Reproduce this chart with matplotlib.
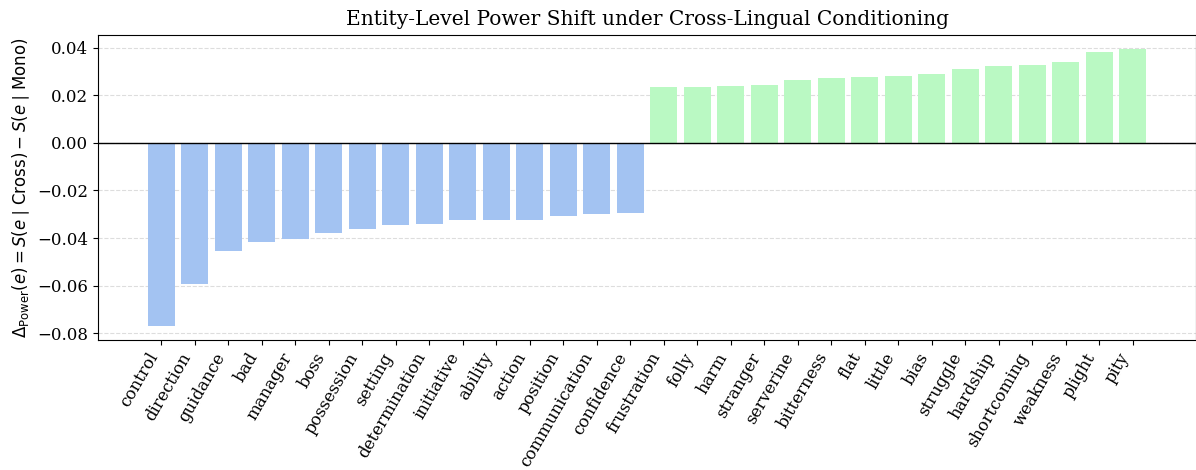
import numpy as np
import matplotlib
matplotlib.use('Agg')
import matplotlib.pyplot as plt

plt.rcParams['font.family'] = 'DejaVu Serif'
plt.rcParams['mathtext.fontset'] = 'dejavusans'

# ── data ──────────────────────────────────────────────────────────────────────
entities = ["control", "direction", "guidance", "bad", "manager", "boss",
            "possession", "setting", "determination", "initiative", "ability",
            "action", "position", "communication", "confidence", "frustration",
            "folly", "harm", "stranger", "serverine", "bitterness", "flat",
            "little", "bias", "struggle", "hardship", "shortcoming", "weakness",
            "plight", "pity"]
delta_power = [-0.0770, -0.0591, -0.0455, -0.0418, -0.0405, -0.0380, -0.0363,
               -0.0346, -0.0342, -0.0325, -0.0325, -0.0325, -0.0308, -0.0300,
               -0.0296, 0.0236, 0.0236, 0.0240, 0.0244, 0.0265, 0.0273, 0.0277,
               0.0282, 0.0290, 0.0311, 0.0323, 0.0328, 0.0340, 0.0382, 0.0395]

NEG_COLOR = "#a3c3f2"
POS_COLOR = "#baf9c3"

vals = np.array(delta_power)
colors = [POS_COLOR if v > 0 else NEG_COLOR for v in vals]
x = np.arange(len(entities))

fig = plt.figure(figsize=(11.96, 4.70), dpi=100)
ax = fig.add_axes([98 / 1196, 1 - 340 / 470, 1098 / 1196, 305 / 470])
ax.bar(x, vals, color=colors, width=0.8)
ax.axhline(0, color="black", lw=1)
ax.grid(axis="y", ls="--", color="#dddddd", lw=0.8)
ax.set_axisbelow(True)
ax.set_xticks(x)
ax.set_xticklabels(entities, rotation=60, ha="right", fontsize=12)
ax.tick_params(axis="y", labelsize=12)
ax.set_ylabel(r"$\Delta_{\mathrm{Power}}(e) = S(e \mid \mathrm{Cross}) - S(e \mid \mathrm{Mono})$",
              fontsize=12)
ax.set_title("Entity-Level Power Shift under Cross-Lingual Conditioning", fontsize=14.5, pad=7)

plt.savefig("out.png", dpi=100)
plt.close()
